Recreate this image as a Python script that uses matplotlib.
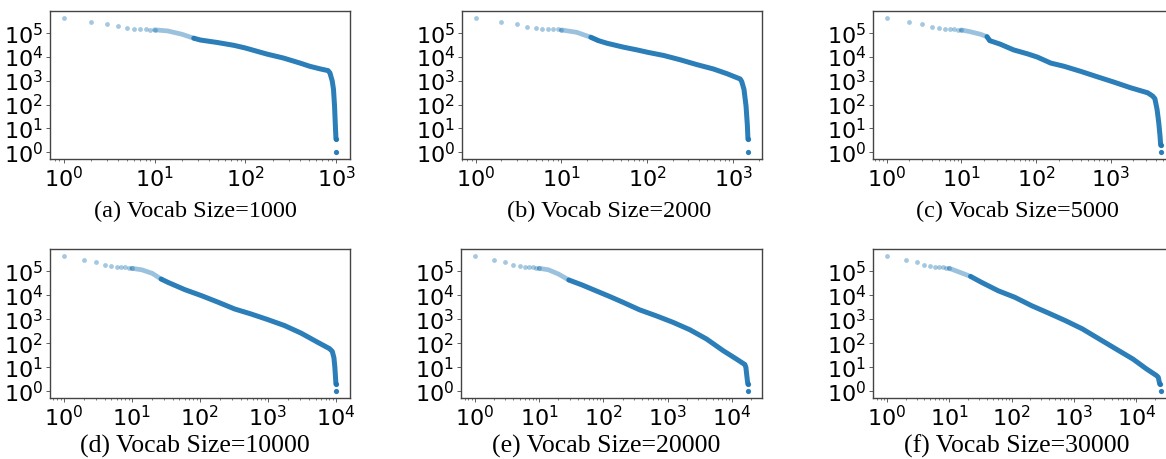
import matplotlib
matplotlib.use("Agg")
import matplotlib.pyplot as plt
from matplotlib.ticker import LogLocator
import numpy as np

# token frequency vs rank (log-log)
captions = ["(a) Vocab Size=1000", "(b) Vocab Size=2000", "(c) Vocab Size=5000",
            "(d) Vocab Size=10000", "(e) Vocab Size=20000", "(f) Vocab Size=30000"]

# top ten ranks (individual dots)
head_a = [450000, 310000, 245000, 195000, 166000, 156000, 155000, 150000, 142000, 140000]
head_b = [450000, 310000, 245000, 190000, 162000, 156000, 155000, 150000, 145000, 138000]
head_c = [450000, 310000, 245000, 190000, 162000, 156000, 150000, 147000, 142000, 138000]
head_d = [450000, 310000, 250000, 190000, 166000, 160000, 150000, 148000, 142000, 135000]
head_e = [450000, 310000, 250000, 190000, 166000, 160000, 150000, 148000, 142000, 135000]
head_f = [450000, 310000, 250000, 190000, 166000, 160000, 150000, 148000, 142000, 135000]

# rest of the curve
rank_a = [10, 14, 20, 27, 32, 49, 75, 100, 134, 173, 262, 398, 510, 660, 810, 850,
          900, 930, 955, 975, 990, 1000]
freq_a = [140000, 125000, 91000, 62000, 52000, 41000, 31000, 24000, 17500, 13300, 9100,
          5600, 4100, 3200, 2700, 2150, 1000, 440, 87, 13, 3.6, 1]

rank_b = [10, 15, 22, 27, 34, 53, 76, 100, 155, 242, 380, 590, 850, 1210, 1260, 1340,
          1416, 1468, 1490, 1507]
freq_b = [138000, 110000, 68000, 49000, 38000, 26000, 20000, 16000, 11700, 7700, 4800,
          3160, 2000, 1200, 950, 440, 87, 13, 3.6, 1]

rank_c = [10, 13, 18, 22, 24, 33, 50, 76, 104, 157, 237, 398, 668, 1110, 1860, 3120,
          3640, 3900, 4170, 4390, 4570, 4660, 4750]
freq_c = [138000, 117000, 91000, 72000, 49000, 35000, 20000, 13800, 10000, 5600, 4100,
          2500, 1470, 880, 510, 316, 230, 178, 64, 18, 4.9, 2, 1]

rank_d = [10, 14, 20, 27, 34, 60, 106, 185, 325, 570, 1000, 1750, 3070, 5380, 8000,
          8800, 9300, 9600, 9800, 9950, 10100]
freq_d = [135000, 117000, 83000, 48000, 35000, 17400, 9700, 5200, 2700, 1660, 970, 550,
          265, 110, 60, 46, 25, 10, 4, 2, 1]

rank_e = [10, 14, 20, 29, 47, 77, 124, 200, 365, 665, 1210, 2200, 4000, 7300, 11700,
          15800, 16400, 17200, 17600, 17900]
freq_e = [135000, 117000, 78000, 44000, 27000, 15500, 9100, 5200, 2500, 1400, 750, 370,
          152, 49, 22, 13, 10, 3.2, 2, 1]

rank_f = [10, 15, 22, 33, 61, 113, 210, 390, 730, 1360, 2530, 4700, 8800, 14500, 21000,
          22400, 23600, 25000]
freq_f = [135000, 91000, 62000, 35000, 15600, 8300, 3700, 1830, 880, 400, 152, 58, 22,
          8.5, 4.5, 3.8, 2, 1]

heads = [head_a, head_b, head_c, head_d, head_e, head_f]
ranks = [rank_a, rank_b, rank_c, rank_d, rank_e, rank_f]
freqs = [freq_a, freq_b, freq_c, freq_d, freq_e, freq_f]

# axes boxes in pixels (left, top, right, bottom)
W, H = 1166, 459
boxes = [(50, 11, 350, 159), (462, 11, 762, 159), (873, 11, 1175, 159),
         (50, 249, 350, 398), (461, 249, 762, 398), (873, 249, 1175, 398)]
cap_x = [195, 609, 1017, 195, 606, 1017]
cap_y = [211, 211, 211, 446, 446, 446]
cap_size = [17.5, 17.5, 17.5, 18.5, 18.5, 18.5]

blue = "#1f77b4"

fig = plt.figure(figsize=(W / 100, H / 100), dpi=100)

for i in range(6):
    l, t, r, b = boxes[i]
    ax = fig.add_axes([l / W, 1 - b / H, (r - l) / W, (b - t) / H])

    hf = np.array(heads[i])
    hr = np.arange(1, len(hf) + 1)
    rk = np.array(ranks[i], dtype=float)
    fq = np.array(freqs[i], dtype=float)

    ax.scatter(hr, hf, s=12, color=blue, alpha=0.4, lw=0, zorder=3)
    sparse = rk <= 30
    ax.plot(rk[sparse], fq[sparse], color=blue, lw=3.4, alpha=0.45,
            solid_capstyle="round", zorder=2)
    dense = (rk >= 22) & (fq >= 2)
    ax.plot(rk[dense], fq[dense], color=blue, lw=3.6, alpha=0.95,
            solid_capstyle="round", zorder=2)
    ax.scatter(rk[-2:], fq[-2:], s=14, color=blue, alpha=0.95, lw=0, zorder=3)

    ax.set_xscale("log")
    ax.set_yscale("log")
    ax.xaxis.set_major_locator(LogLocator(base=10, numticks=20))
    ax.yaxis.set_major_locator(LogLocator(base=10, numticks=20))
    ax.xaxis.set_minor_locator(LogLocator(base=10, subs=np.arange(2, 10), numticks=20))
    ax.tick_params(labelsize=16, length=3, width=0.6, color="#444")
    ax.tick_params(which="minor", length=1.5, width=0.5, color="#444")
    ax.tick_params(axis="y", which="minor", left=False)
    ax.tick_params(axis="x", pad=2)
    ax.tick_params(axis="y", pad=2)
    for sp in ax.spines.values():
        sp.set_color("#444")
        sp.set_linewidth(1.0)

    fig.text(cap_x[i] / W, 1 - cap_y[i] / H, captions[i], ha="center", va="center",
             fontsize=cap_size[i], family="Liberation Serif")

fig.savefig("out.png", dpi=100)
